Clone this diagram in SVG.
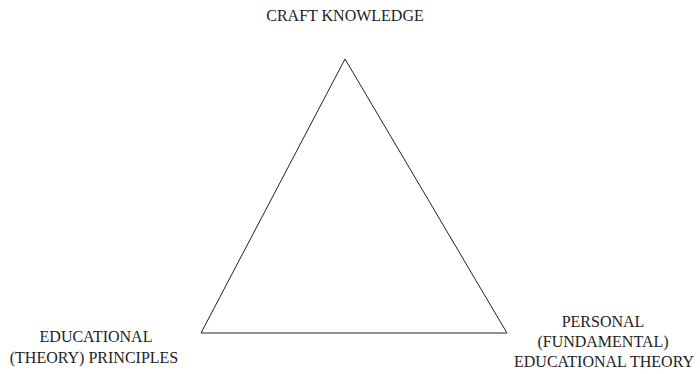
<svg xmlns="http://www.w3.org/2000/svg" width="700" height="374" viewBox="0 0 700 374">
<style>
text{font-family:"Liberation Serif","Times New Roman",serif;font-size:16px;fill:#222;text-anchor:middle}
.edge{fill:none;stroke:#222;stroke-width:1}
</style>
<rect width="700" height="374" fill="#fff"/>
<g id="connectors">
<polygon class="edge" points="345,59 201,333 507,333"/>
</g>
<g id="craft"><text x="345" y="21">CRAFT KNOWLEDGE</text></g>
<g id="educational"><text x="96" y="342">EDUCATIONAL</text><text x="94" y="363">(THEORY) PRINCIPLES</text></g>
<g id="personal"><text x="603" y="327">PERSONAL</text><text x="603" y="347">(FUNDAMENTAL)</text><text x="604" y="367">EDUCATIONAL THEORY</text></g>
</svg>
